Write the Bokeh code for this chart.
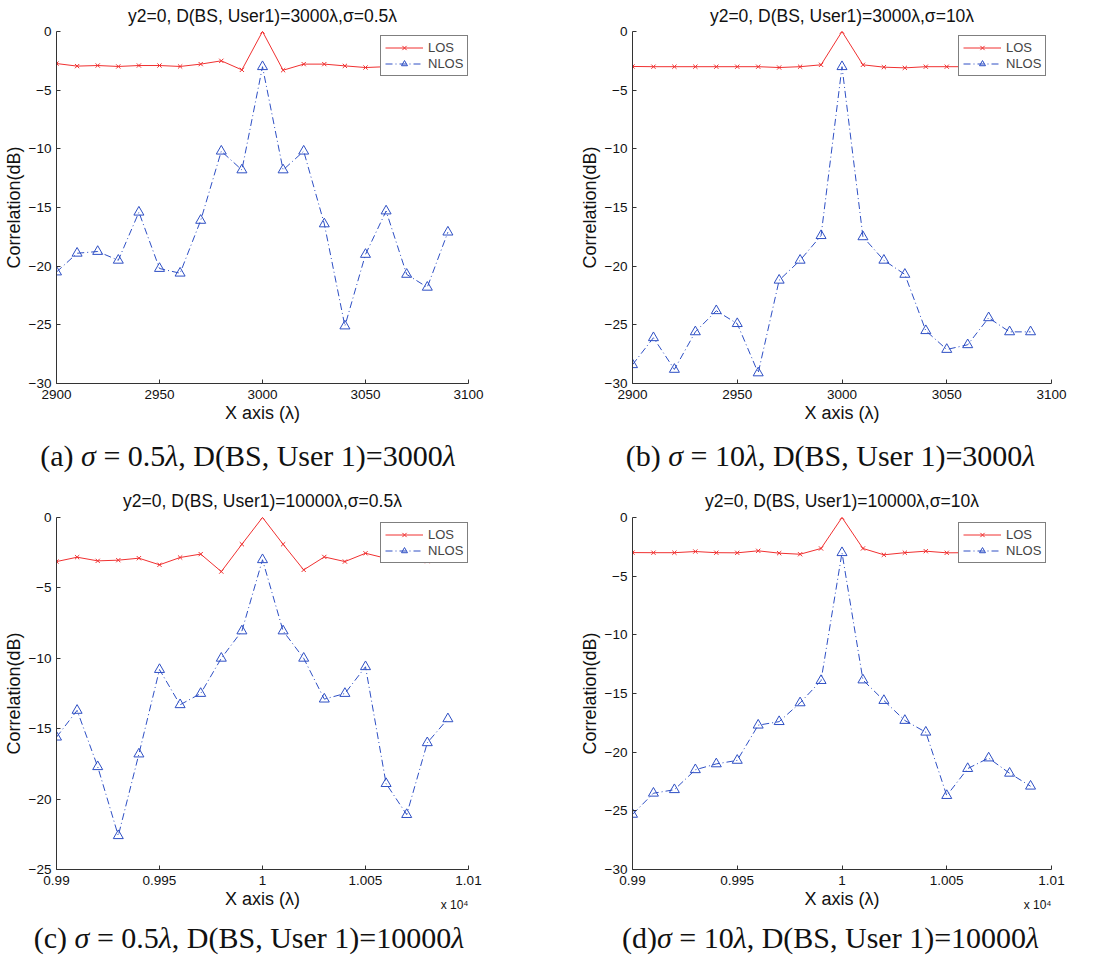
from bokeh.plotting import figure
from bokeh.models import Range1d, FixedTicker, Legend, LegendItem, Title, Div
from bokeh.layouts import column, row
from bokeh.embed import file_html
from bokeh.resources import INLINE

# ---------------- data ----------------
x_3000 = [2900, 2910, 2920, 2930, 2940, 2950, 2960, 2970, 2980, 2990,
          3000, 3010, 3020, 3030, 3040, 3050, 3060, 3070, 3080, 3090]
x_10000 = [9900, 9910, 9920, 9930, 9940, 9950, 9960, 9970, 9980, 9990,
           10000, 10010, 10020, 10030, 10040, 10050, 10060, 10070, 10080, 10090]

los_a = [-2.73, -2.95, -2.9, -2.98, -2.9, -2.9, -2.98, -2.78, -2.5, -3.27,
         0.0, -3.3, -2.78, -2.78, -2.93, -3.07, -3.0, -3.0, -3.0, -3.0]
nlos_a = [-20.5, -18.9, -18.75, -19.5, -15.4, -20.2, -20.6, -16.1, -10.2, -11.8,
          -3.0, -11.8, -10.2, -16.4, -25.1, -19.0, -15.3, -20.7, -21.8, -17.1]

los_b = [-2.98, -3.0, -3.0, -3.0, -3.0, -3.0, -3.0, -3.07, -3.0, -2.84,
         0.0, -2.84, -3.04, -3.1, -3.0, -3.0, -3.0, -3.0, -3.0, -3.0]
nlos_b = [-28.4, -26.1, -28.8, -25.6, -23.8, -24.9, -29.1, -21.2, -19.5, -17.4,
          -3.0, -17.5, -19.5, -20.7, -25.5, -27.1, -26.7, -24.4, -25.6, -25.6]

los_c = [-3.13, -2.82, -3.08, -3.03, -2.89, -3.36, -2.84, -2.6, -3.84, -1.9,
         0.0, -1.9, -3.72, -2.8, -3.13, -2.54, -2.9, -3.0, -3.1, -3.0]
nlos_c = [-15.6, -13.7, -17.7, -22.6, -16.8, -10.8, -13.3, -12.5, -10.0, -8.06,
          -3.0, -8.06, -10.0, -12.9, -12.5, -10.6, -18.9, -21.1, -16.0, -14.3]

los_d = [-2.99, -3.0, -3.0, -2.9, -3.0, -3.01, -2.84, -3.04, -3.13, -2.64,
         0.0, -2.64, -3.18, -3.0, -2.87, -3.01, -3.0, -3.0, -3.0, -3.0]
nlos_d = [-25.3, -23.5, -23.2, -21.5, -21.0, -20.7, -17.7, -17.4, -15.8, -13.9,
          -3.0, -13.85, -15.6, -17.3, -18.3, -23.7, -21.4, -20.5, -21.8, -22.9]

xticks_3000 = [2900, 2950, 3000, 3050, 3100]
xlabels_3000 = ["2900", "2950", "3000", "3050", "3100"]
xticks_10000 = [9900, 9950, 10000, 10050, 10100]
xlabels_10000 = ["0.99", "0.995", "1", "1.005", "1.01"]

yticks_30 = [-30, -25, -20, -15, -10, -5, 0]
ylabels_30 = ["\u221230", "\u221225", "\u221220", "\u221215", "\u221210", "\u22125", "0"]
yticks_25 = [-25, -20, -15, -10, -5, 0]
ylabels_25 = ["\u221225", "\u221220", "\u221215", "\u221210", "\u22125", "0"]

titles = ["y2=0, D(BS, User1)=3000\u03bb,\u03c3=0.5\u03bb",
          "y2=0, D(BS, User1)=3000\u03bb,\u03c3=10\u03bb",
          "y2=0, D(BS, User1)=10000\u03bb,\u03c3=0.5\u03bb",
          "y2=0, D(BS, User1)=10000\u03bb,\u03c3=10\u03bb"]
captions = ["(a) \u03c3 = 0.5\u03bb, D(BS, User 1)=3000\u03bb",
            "(b) \u03c3 = 10\u03bb, D(BS, User 1)=3000\u03bb",
            "(c) \u03c3 = 0.5\u03bb, D(BS, User 1)=10000\u03bb",
            "(d)\u03c3 = 10\u03bb, D(BS, User 1)=10000\u03bb"]
series_names = ["LOS", "NLOS"]
x_label = "X axis (\u03bb)"
y_label = "Correlation(dB)"
sci_text = "x 10\u2074"

# ---------------- style ----------------
SANS = "Liberation Sans"
RED = "#f03030"
BLUE = "#2e4fc4"
AXIS = "#333333"
INK = "#111111"
W = 540


def make_panel(x, los, nlos, title, xticks, xlabels, xr, yticks, ylabels, yr,
               height, left, right, top, bottom, title_standoff, legend_xy, sci):
    p = figure(width=W, height=height, output_backend="svg", toolbar_location=None,
               x_range=Range1d(*xr), y_range=Range1d(*yr),
               min_border_left=left, min_border_right=right,
               min_border_top=top, min_border_bottom=bottom)
    p.outline_line_color = None
    p.background_fill_color = "white"
    p.border_fill_color = "white"
    p.xgrid.visible = False
    p.ygrid.visible = False

    for ax, ticks, labels in ((p.xaxis[0], xticks, xlabels), (p.yaxis[0], yticks, ylabels)):
        ax.ticker = FixedTicker(ticks=ticks)
        ax.major_label_overrides = {t: l for t, l in zip(ticks, labels)}
        ax.major_tick_in = 4
        ax.major_tick_out = 0
        ax.minor_tick_line_color = None
        ax.axis_line_color = AXIS
        ax.major_tick_line_color = AXIS
        ax.major_label_text_font = SANS
        ax.major_label_text_font_size = "13.5px"
        ax.major_label_text_color = INK
        ax.major_label_standoff = 5
        ax.axis_label_text_font = SANS
        ax.axis_label_text_font_size = "18px"
        ax.axis_label_text_font_style = "normal"
        ax.axis_label_text_color = INK
        ax.axis_label_standoff = 2
    p.xaxis[0].axis_label = x_label
    p.xaxis[0].major_label_standoff = 6
    p.xaxis[0].axis_label_standoff = 1
    p.yaxis[0].axis_label = y_label

    l1 = p.line(x, los, line_color=RED, line_width=1)
    m1 = p.scatter(x, los, marker="x", size=6, line_color=RED, line_width=1)
    l2 = p.line(x, nlos, line_color=BLUE, line_width=1, line_dash="7 3 1 3")
    m2 = p.scatter(x, nlos, marker="triangle", size=10, line_color=BLUE,
                   fill_color=None, line_width=1)

    legend = Legend(items=[LegendItem(label=series_names[0], renderers=[l1, m1]),
                           LegendItem(label=series_names[1], renderers=[l2, m2])],
                    location=legend_xy, margin=0, padding=4, spacing=1,
                    glyph_width=38, glyph_height=15, label_height=15,
                    label_standoff=5, label_text_font=SANS,
                    label_text_font_size="13px", border_line_color="black",
                    border_line_width=1, background_fill_color="white",
                    background_fill_alpha=1.0)
    p.add_layout(legend)

    p.add_layout(Title(text=title, align="center", vertical_align="top", text_font=SANS,
                       text_font_size="17.5px", text_font_style="normal",
                       text_color=INK, standoff=title_standoff), "above")
    if sci:
        p.add_layout(Title(text=sci_text, align="right", vertical_align="top",
                           text_font=SANS, text_font_size="12px", text_font_style="normal",
                           text_color=INK, standoff=-27), "below")
    return p


def make_caption(text, height, line_h, pad_top, pad_left, pad_right):
    html = text.replace("\u03c3", "<i>\u03c3</i>").replace("\u03bb", "<i>\u03bb</i>")
    style = ("width:%dpx;height:%dpx;line-height:%dpx;box-sizing:border-box;"
             "padding-top:%dpx;padding-left:%dpx;padding-right:%dpx;"
             "text-align:center;white-space:nowrap;"
             "font-family:'Liberation Serif';font-size:30px;color:#111111;"
             % (W, height, line_h, pad_top, pad_left, pad_right))
    return Div(text='<div style="%s">%s</div>' % (style, html),
               width=W, height=height, margin=(0, 0, 0, 0))


pa = make_panel(x_3000, los_a, nlos_a, titles[0], xticks_3000, xlabels_3000,
                (2900, 3100), yticks_30, ylabels_30, (-30, 0), 428, 51, 72, 31, 45, 8,
                (324, 307), False)
pb = make_panel(x_3000, los_b, nlos_b, titles[1], xticks_3000, xlabels_3000,
                (2900, 3100), yticks_30, ylabels_30, (-30, 0), 428, 92, 29, 31, 45, 8,
                (326, 307), False)
pc = make_panel(x_10000, los_c, nlos_c, titles[2], xticks_10000, xlabels_10000,
                (9900, 10100), yticks_25, ylabels_25, (-25, 0), 428, 51, 72, 33, 43, 10,
                (324, 306), True)
pd = make_panel(x_10000, los_d, nlos_d, titles[3], xticks_10000, xlabels_10000,
                (9900, 10100), yticks_30, ylabels_30, (-30, 0), 428, 92, 29, 33, 43, 10,
                (326, 306), True)

ca = make_caption(captions[0], 56, 56, 0, 0, 44)
cb = make_caption(captions[1], 56, 56, 0, 41, 0)
cc = make_caption(captions[2], 40, 30, 11, 0, 42)
cd = make_caption(captions[3], 40, 30, 11, 41, 0)

layout = column(row(pa, pb), row(ca, cb), row(pc, pd), row(cc, cd))
open("out.html", "w").write(file_html(layout, INLINE))
